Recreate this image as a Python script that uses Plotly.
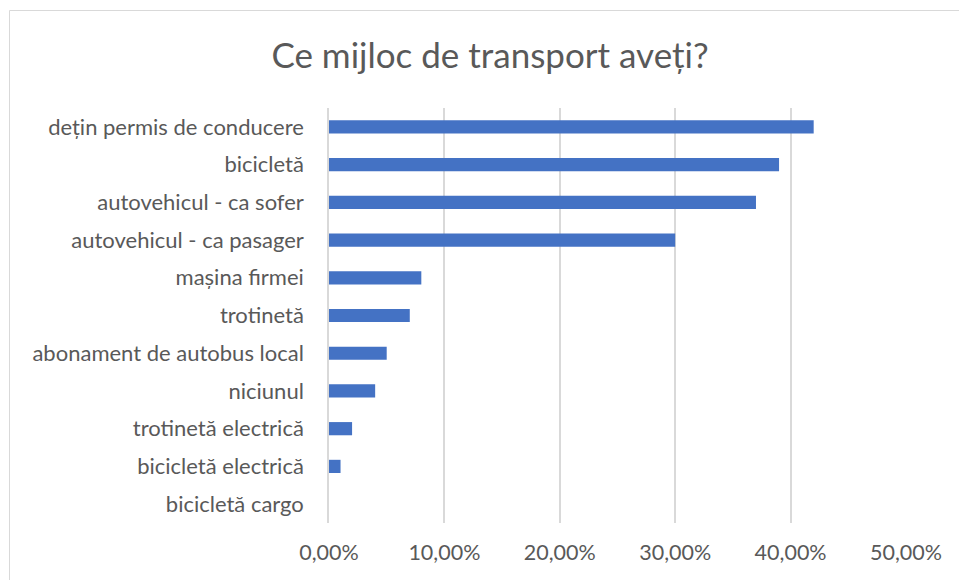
import plotly.graph_objects as go

# Survey answers, top to bottom as displayed
categories = [
    "dețin permis de conducere",
    "bicicletă",
    "autovehicul - ca sofer",
    "autovehicul - ca pasager",
    "mașina firmei",
    "trotinetă",
    "abonament de autobus local",
    "niciunul",
    "trotinetă electrică",
    "bicicletă electrică",
    "bicicletă cargo",
]
shares = [0.42, 0.39, 0.37, 0.30, 0.08, 0.07, 0.05, 0.04, 0.02, 0.01, 0.0]
tick_values = [0, 0.1, 0.2, 0.3, 0.4, 0.5]
tick_labels = ["0,00%", "10,00%", "20,00%", "30,00%", "40,00%", "50,00%"]

W, H = 959, 580
L, R, T, B = 329, 53, 108, 57
plot_w = W - L - R
plot_h = H - T - B

FONT = "Lato"
TXT = "#595959"

fig = go.Figure(
    go.Bar(
        x=shares,
        y=categories,
        orientation="h",
        width=0.35,
        marker=dict(color="#4472C4", line=dict(width=0)),
        hovertemplate="%{y}: %{x:.2%}<extra></extra>",
    )
)

# outer chart frame (top and left edges visible)
fig.add_shape(
    type="rect",
    xref="paper", yref="paper",
    x0=(9.5 - L) / plot_w, x1=(W + 5 - L) / plot_w,
    y0=-(B + 5) / plot_h, y1=(H - 10.5 - B) / plot_h,
    line=dict(color="#D9D9D9", width=1),
    fillcolor="rgba(0,0,0,0)",
    layer="below",
)

fig.update_layout(
    width=W, height=H,
    margin=dict(l=L, r=R, t=T, b=B),
    paper_bgcolor="white",
    plot_bgcolor="white",
    showlegend=False,
    bargap=0.65,
    title=dict(
        text="Ce mijloc de transport aveți?",
        x=490 / W, xanchor="center",
        y=1 - 56 / H, yanchor="middle",
        font=dict(family=FONT, size=35, color=TXT),
    ),
    font=dict(family=FONT, color=TXT),
    xaxis=dict(
        range=[0, 0.5],
        tickvals=tick_values,
        ticktext=tick_labels,
        showgrid=True,
        gridcolor="#D9D9D9",
        gridwidth=1.5,
        zeroline=False,
        showline=False,
        ticks="",
        ticklabelstandoff=14,
        tickfont=dict(family=FONT, size=21.5, color=TXT),
    ),
    yaxis=dict(
        categoryorder="array",
        categoryarray=categories[::-1],
        showgrid=False,
        zeroline=False,
        showline=True,
        linecolor="#D9D9D9",
        linewidth=1.5,
        ticks="",
        ticklabelstandoff=19,
        tickfont=dict(family=FONT, size=22, color=TXT),
    ),
)

fig.write_html("out.html")
